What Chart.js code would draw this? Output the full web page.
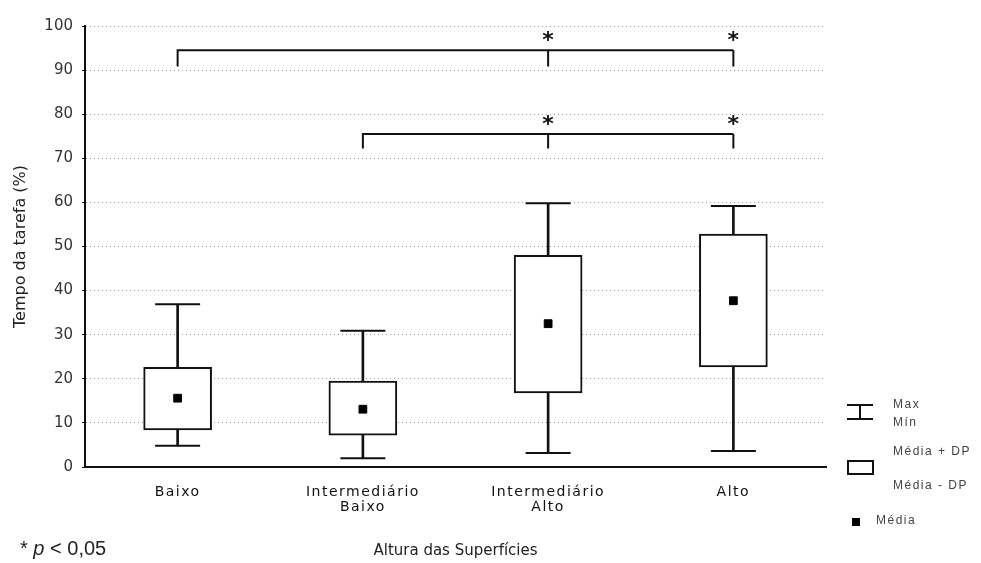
<!DOCTYPE html>
<html>
<head>
<meta charset="utf-8">
<script src="https://cdn.jsdelivr.net/npm/chart.js@4"></script>
<style>
  html, body { margin: 0; padding: 0; background: #fff; }
</style>
</head>
<body>
<canvas id="boxChart" width="981" height="563"></canvas>
<script>
// categories (multi-line tick labels)
const categories = [['Baixo'], ['Intermediário', 'Baixo'], ['Intermediário', 'Alto'], ['Alto']];

// values (% of task time)
const maxValues  = [36.9, 30.9, 59.8, 59.2];
const sdHigh     = [22.6, 19.5, 48.0, 52.8];   // Média + DP
const meanValues = [15.6, 13.1, 32.5, 37.7];
const sdLow      = [8.4, 7.2, 16.8, 22.7];     // Média - DP
const minValues  = [4.8, 2.0, 3.2, 3.6];

const yTicks = [0, 10, 20, 30, 40, 50, 60, 70, 80, 90, 100];

// significance brackets: start category, categories marked with *, bracket level and foot level
const brackets = [
  { from: 0, marks: [2, 3], top: 94.5, foot: 90.8 },
  { from: 1, marks: [2, 3], top: 75.5, foot: 72.2 }
];

const legendItems = ['Max', 'Mín', 'Média + DP', 'Média - DP', 'Média'];

// x tick labels in the original are letter-spaced
const spacedLabels = {
  id: 'spacedLabels',
  afterUpdate(chart) {
    const sx = chart.scales.x;
    if (sx._spaced) return;
    const draw = sx.drawLabels;
    sx.drawLabels = function (area) {
      this.ctx.save();
      this.ctx.letterSpacing = '1.5px';
      draw.call(this, area);
      this.ctx.restore();
    };
    sx._spaced = true;
  }
};

const extras = {
  id: 'extras',
  afterDatasetsDraw(chart) {
    const { ctx, scales: { x, y }, chartArea } = chart;
    ctx.save();
    ctx.strokeStyle = '#111';
    ctx.lineWidth = 2;

    // brackets
    brackets.forEach(b => {
      const x0 = x.getPixelForValue(b.from);
      const xr = x.getPixelForValue(b.marks[b.marks.length - 1]);
      const yt = y.getPixelForValue(b.top);
      const yf = y.getPixelForValue(b.foot);
      ctx.beginPath();
      ctx.moveTo(x0, yf);
      ctx.lineTo(x0, yt);
      ctx.lineTo(xr, yt);
      b.marks.forEach(m => {
        const xm = x.getPixelForValue(m);
        ctx.moveTo(xm, yt);
        ctx.lineTo(xm, yf);
      });
      ctx.stroke();
      ctx.fillStyle = '#111';
      ctx.font = 'bold 22px "DejaVu Sans"';
      ctx.textAlign = 'center';
      ctx.textBaseline = 'alphabetic';
      b.marks.forEach(m => ctx.fillText('*', x.getPixelForValue(m), yt - 3));
    });

    // legend on the right
    const R = chartArea.right;
    ctx.beginPath();
    ctx.moveTo(R + 21, 405); ctx.lineTo(R + 47, 405);
    ctx.moveTo(R + 34, 405); ctx.lineTo(R + 34, 419);
    ctx.moveTo(R + 21, 419); ctx.lineTo(R + 47, 419);
    ctx.stroke();
    ctx.strokeRect(R + 22, 461, 25, 13);
    ctx.fillStyle = '#000';
    ctx.fillRect(R + 26, 518, 8, 8);

    ctx.font = '12px "Liberation Sans"';
    ctx.letterSpacing = '1.5px';
    ctx.fillStyle = '#444';
    ctx.textAlign = 'left';
    ctx.textBaseline = 'middle';
    ctx.fillText(legendItems[0], R + 67, 405);
    ctx.fillText(legendItems[1], R + 67, 423);
    ctx.fillText(legendItems[2], R + 67, 452);
    ctx.fillText(legendItems[3], R + 67, 486);
    ctx.fillText(legendItems[4], R + 50, 521);

    // footnote
    ctx.letterSpacing = '0px';
    ctx.fillStyle = '#222';
    ctx.textBaseline = 'alphabetic';
    let fx = 20;
    ctx.font = '20px "Liberation Sans"';
    ctx.fillText('* ', fx, 555);
    fx += ctx.measureText('* ').width;
    ctx.font = 'italic 20px "Liberation Sans"';
    ctx.fillText('p', fx, 555);
    fx += ctx.measureText('p').width;
    ctx.font = '20px "Liberation Sans"';
    ctx.fillText(' < 0,05', fx, 555);
    ctx.restore();
  }
};

const ctx = document.getElementById('boxChart');

new Chart(ctx, {
  type: 'bar',
  data: {
    labels: categories,
    datasets: [
      {
        type: 'line',
        label: 'Média',
        data: meanValues,
        showLine: false,
        pointStyle: 'rect',
        pointRadius: 5.5,
        pointBackgroundColor: '#000',
        pointBorderColor: '#000',
        pointBorderWidth: 1,
        order: 0
      },
      {
        label: 'Média ± DP',
        data: sdLow.map((v, i) => [v, sdHigh[i]]),
        backgroundColor: '#fff',
        borderColor: '#111',
        borderWidth: 2,
        borderSkipped: false,
        barThickness: 68,
        grouped: false,
        order: 1
      },
      {
        type: 'line',
        label: 'Max',
        data: maxValues,
        showLine: false,
        pointStyle: 'line',
        pointRadius: 22.5,
        pointBorderColor: '#111',
        pointBorderWidth: 2,
        order: 2
      },
      {
        type: 'line',
        label: 'Mín',
        data: minValues,
        showLine: false,
        pointStyle: 'line',
        pointRadius: 22.5,
        pointBorderColor: '#111',
        pointBorderWidth: 2,
        order: 2
      },
      {
        label: 'Max - Mín',
        data: minValues.map((v, i) => [v, maxValues[i]]),
        backgroundColor: '#111',
        borderWidth: 0,
        barThickness: 2,
        grouped: false,
        order: 3
      }
    ]
  },
  options: {
    responsive: false,
    animation: false,
    events: [],
    devicePixelRatio: 1,
    layout: { padding: { top: 26, right: 155, bottom: 0, left: 0 } },
    plugins: {
      legend: { display: false },
      tooltip: { enabled: false }
    },
    scales: {
      x: {
        grid: { display: false, drawTicks: false },
        border: { color: '#111', width: 2 },
        ticks: {
          color: '#111',
          font: { family: 'DejaVu Sans', size: 14, lineHeight: 1.08 },
          padding: 18,
          maxRotation: 0,
          autoSkip: false
        },
        title: {
          display: true,
          text: 'Altura das Superfícies',
          color: '#222',
          font: { family: 'DejaVu Sans', size: 15 },
          padding: { top: 4, bottom: 3 }
        },
        afterFit: s => { s.height = 96; }
      },
      y: {
        min: 0,
        max: 100,
        afterBuildTicks: s => { s.ticks = yTicks.map(v => ({ value: v })); },
        ticks: {
          color: '#333',
          font: { family: 'DejaVu Sans', size: 15 },
          padding: 9
        },
        grid: {
          color: c => (c.tick && c.tick.value === 0 ? 'rgba(0,0,0,0)' : '#999'),
          lineWidth: 1,
          tickColor: '#111',
          tickLength: 3,
          tickBorderDash: []
        },
        border: { color: '#111', width: 2, dash: [1, 3] },
        title: {
          display: true,
          text: 'Tempo da tarefa (%)',
          color: '#222',
          font: { family: 'DejaVu Sans', size: 16 },
          padding: { top: 11, bottom: 0 }
        },
        afterFit: s => { s.width = 85; }
      }
    }
  },
  plugins: [spacedLabels, extras]
});
</script>
</body>
</html>
